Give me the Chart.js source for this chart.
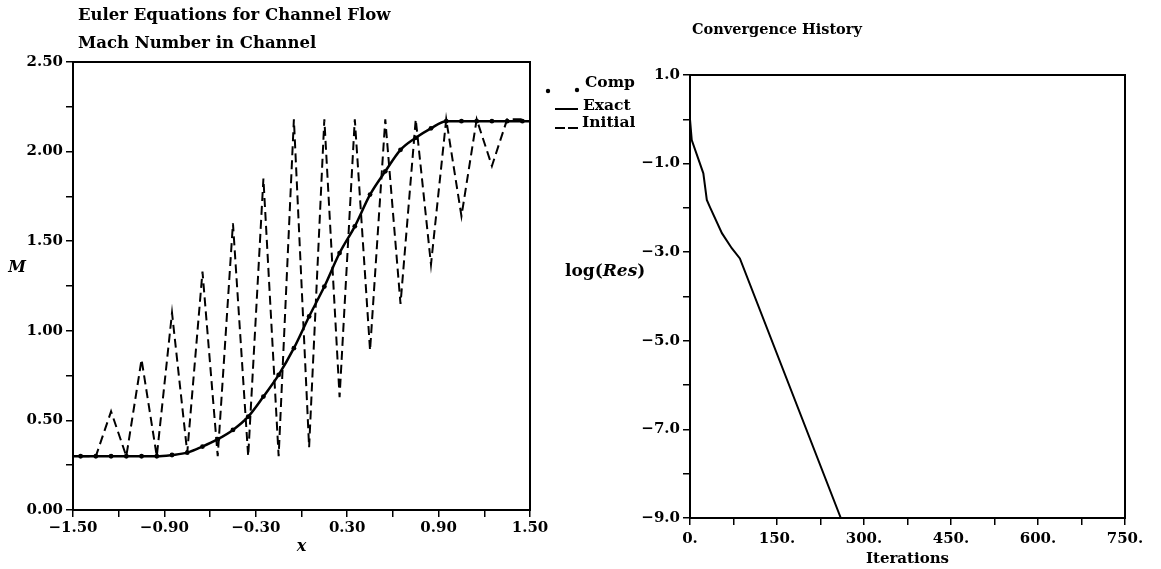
<!DOCTYPE html>
<html><head><meta charset="utf-8">
<script src="https://cdn.jsdelivr.net/npm/chart.js@4.4.0/dist/chart.umd.min.js"></script>
<style>
html,body{margin:0;padding:0;background:#fff;}
#wrap{position:relative;width:1161px;height:569px;overflow:hidden;background:#fff;}
#c1{position:absolute;left:0;top:0;}
#c2{position:absolute;left:540px;top:0;}
</style></head><body>
<div id="wrap"><canvas id="c1" width="640" height="569"></canvas><canvas id="c2" width="621" height="569"></canvas></div>
<script>
// ---------- Left chart data: Mach number in channel ----------
const exactX = [-1.50, -1.45, -1.35, -1.25, -1.15, -1.05, -0.95, -0.85, -0.75, -0.65, -0.55, -0.45, -0.35, -0.25, -0.15, -0.05,
                0.05, 0.15, 0.25, 0.35, 0.45, 0.55, 0.65, 0.75, 0.85, 0.95, 1.05, 1.15, 1.25, 1.35, 1.45, 1.50];
const exactM = [0.30, 0.30, 0.30, 0.30, 0.30, 0.30, 0.30, 0.307, 0.32, 0.354, 0.395, 0.447, 0.521, 0.633, 0.754, 0.903,
                1.08, 1.247, 1.434, 1.583, 1.76, 1.89, 2.01, 2.077, 2.13, 2.17, 2.17, 2.17, 2.17, 2.17, 2.17, 2.17];
const cellX = [-1.45, -1.35, -1.25, -1.15, -1.05, -0.95, -0.85, -0.75, -0.65, -0.55, -0.45, -0.35, -0.25, -0.15, -0.05,
               0.05, 0.15, 0.25, 0.35, 0.45, 0.55, 0.65, 0.75, 0.85, 0.95, 1.05, 1.15, 1.25, 1.35, 1.45];
const compM = [0.30, 0.30, 0.30, 0.30, 0.30, 0.30, 0.307, 0.32, 0.354, 0.395, 0.447, 0.521, 0.633, 0.754, 0.903,
               1.08, 1.247, 1.434, 1.583, 1.76, 1.89, 2.01, 2.077, 2.13, 2.17, 2.17, 2.17, 2.17, 2.17, 2.17];
const initialM = [0.30, 0.30, 0.55, 0.30, 0.84, 0.30, 1.10, 0.32, 1.33, 0.30, 1.60, 0.30, 1.85, 0.30, 2.18,
                  0.35, 2.18, 0.63, 2.18, 0.89, 2.18, 1.15, 2.18, 1.37, 2.18, 1.64, 2.18, 1.92, 2.18, 2.18];
const leftTitles = ["Euler Equations for Channel Flow", "Mach Number in Channel"];
const legendLabels = ["Comp", "Exact", "Initial"];

// ---------- Right chart data: convergence history ----------
const iterations = [0, 3, 23, 29, 34, 55, 72, 86, 260];
const logRes = [0.0, -0.47, -1.22, -1.82, -1.97, -2.57, -2.91, -3.14, -9.0];
const rightTitle = "Convergence History";

const FONT = "'DejaVu Serif', serif";
const tickFont = {family: FONT, size: 15, weight: 'bold'};
const fmt = (v, d) => (v < -1e-9 ? '\u2212' : '') + Math.abs(v).toFixed(d);
const pts = (xs, ys) => xs.map((x, i) => ({x: x, y: ys[i]}));

function axisCommon(extra) {
  return Object.assign({
    type: 'linear',
    grid: {display: true, drawOnChartArea: false, drawTicks: true, tickLength: 7, color: '#000', lineWidth: 1.5},
    border: {display: true, color: '#000', width: 2},
  }, extra);
}

const leftDeco = {
  id: 'leftDeco',
  afterDraw(chart) {
    const {ctx, chartArea: a} = chart;
    ctx.save();
    ctx.strokeStyle = '#000'; ctx.lineWidth = 2;
    ctx.strokeRect(a.left, a.top, a.right - a.left, a.bottom - a.top);
    ctx.fillStyle = '#000';
    ctx.textBaseline = 'middle'; ctx.textAlign = 'left';
    ctx.font = "bold 16.5px " + FONT;
    ctx.fillText(leftTitles[0], a.left + 5, 16);
    ctx.fillText(leftTitles[1], a.left + 5, 44);
    // y axis title "M"
    ctx.font = "italic bold 16px " + FONT;
    ctx.textAlign = 'center';
    ctx.fillText("M", 17, 268);
    // legend
    const lx = a.right;
    ctx.font = "bold 15.5px " + FONT;
    ctx.textAlign = 'left';
    ctx.beginPath(); ctx.arc(lx + 18, a.top + 29, 2.2, 0, Math.PI * 2); ctx.fill();
    ctx.beginPath(); ctx.arc(lx + 47, a.top + 28, 2.2, 0, Math.PI * 2); ctx.fill();
    ctx.fillText(legendLabels[0], lx + 55, a.top + 21);
    ctx.lineWidth = 2;
    ctx.beginPath(); ctx.moveTo(lx + 25, a.top + 47); ctx.lineTo(lx + 48, a.top + 47); ctx.stroke();
    ctx.fillText(legendLabels[1], lx + 53, a.top + 44);
    ctx.beginPath(); ctx.moveTo(lx + 25, a.top + 66); ctx.lineTo(lx + 35, a.top + 66);
    ctx.moveTo(lx + 38, a.top + 66); ctx.lineTo(lx + 48, a.top + 66); ctx.stroke();
    ctx.fillText(legendLabels[2], lx + 52, a.top + 61);
    ctx.restore();
  }
};

const rightDeco = {
  id: 'rightDeco',
  afterDraw(chart) {
    const {ctx, chartArea: a} = chart;
    ctx.save();
    ctx.strokeStyle = '#000'; ctx.lineWidth = 2;
    ctx.strokeRect(a.left, a.top, a.right - a.left, a.bottom - a.top);
    ctx.fillStyle = '#000';
    ctx.textBaseline = 'middle'; ctx.textAlign = 'left';
    ctx.font = "bold 14.5px " + FONT;
    ctx.fillText(rightTitle, a.left + 2, 30);
    // y title log(Res)
    let x = 25, y = 272;
    ctx.font = "bold 17px " + FONT;
    ctx.fillText("log(", x, y); x += ctx.measureText("log(").width;
    ctx.font = "italic bold 17px " + FONT;
    ctx.fillText("Res", x, y); x += ctx.measureText("Res").width;
    ctx.font = "bold 17px " + FONT;
    ctx.fillText(")", x, y);
    ctx.restore();
  }
};

new Chart(document.getElementById('c1'), {
  type: 'scatter',
  data: {
    datasets: [
      {label: 'Initial', data: pts(cellX, initialM), showLine: true, borderColor: '#000', borderWidth: 2,
       borderDash: [9, 5], pointRadius: 0, tension: 0, order: 3},
      {label: 'Exact', data: pts(exactX, exactM), showLine: true, borderColor: '#000', borderWidth: 2.5,
       pointRadius: 0, cubicInterpolationMode: 'monotone', order: 2},
      {label: 'Comp', data: pts(cellX, compM), showLine: false, pointRadius: 2.4, pointBackgroundColor: '#000',
       pointBorderWidth: 0, order: 1}
    ]
  },
  options: {
    responsive: false, animation: false, devicePixelRatio: 1,
    layout: {padding: {top: 62, right: 110, bottom: 0, left: 0}},
    plugins: {legend: {display: false}, tooltip: {enabled: false}, title: {display: false}},
    scales: {
      x: axisCommon({
        min: -1.5, max: 1.5,
        ticks: {stepSize: 0.3, autoSkip: false, maxRotation: 0, color: '#000', font: tickFont, padding: 2,
                callback: (v, i) => i % 2 === 0 ? fmt(v, 2) : ''},
        title: {display: true, text: 'x', color: '#000', font: {family: FONT, size: 16, weight: 'bold', style: 'italic'},
                padding: {top: 0, bottom: 13}},
        afterFit: s => { s.height = 59; }
      }),
      y: axisCommon({
        min: 0, max: 2.5,
        ticks: {stepSize: 0.25, autoSkip: false, color: '#000', font: tickFont, padding: 3,
                callback: (v, i) => i % 2 === 0 ? fmt(v, 2) : ''},
        afterFit: s => { s.width = 73; }
      })
    }
  },
  plugins: [leftDeco]
});

new Chart(document.getElementById('c2'), {
  type: 'scatter',
  data: {
    datasets: [
      {label: 'log(Res)', data: pts(iterations, logRes), showLine: true, borderColor: '#000', borderWidth: 2,
       pointRadius: 0, tension: 0}
    ]
  },
  options: {
    responsive: false, animation: false, devicePixelRatio: 1,
    layout: {padding: {top: 75, right: 36, bottom: 0, left: 0}},
    plugins: {legend: {display: false}, tooltip: {enabled: false}, title: {display: false}},
    scales: {
      x: axisCommon({
        min: 0, max: 750,
        ticks: {stepSize: 75, autoSkip: false, maxRotation: 0, color: '#000', font: tickFont, padding: 5,
                callback: (v, i) => i % 2 === 0 ? Math.round(v) + '.' : ''},
        title: {display: true, text: 'Iterations', color: '#000', font: {family: FONT, size: 15, weight: 'bold'},
                padding: {top: 0, bottom: 1}},
        afterFit: s => { s.height = 51; }
      }),
      y: axisCommon({
        min: -9, max: 1,
        ticks: {stepSize: 1, autoSkip: false, color: '#000', font: tickFont, padding: 3,
                callback: (v, i) => i % 2 === 0 ? fmt(v, 1) : ''},
        afterFit: s => { s.width = 150; }
      })
    }
  },
  plugins: [rightDeco]
});
</script>
</body></html>
